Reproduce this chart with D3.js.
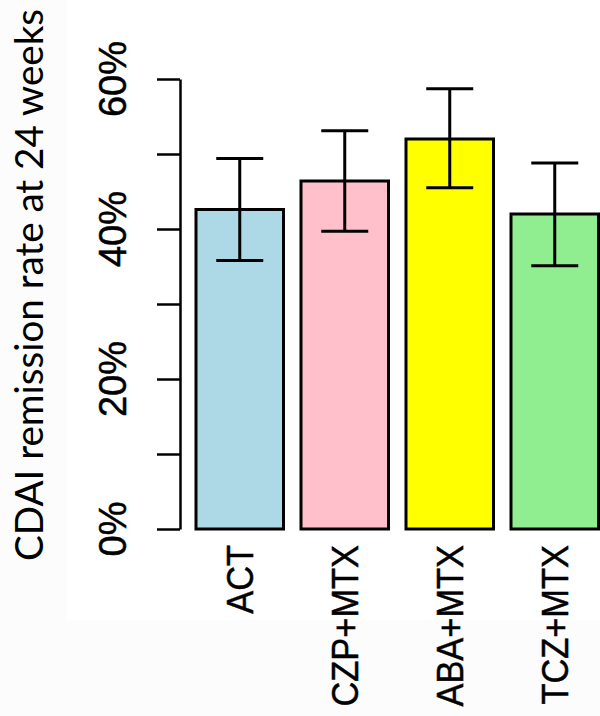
<!DOCTYPE html>
<html>
<head>
<meta charset="utf-8">
<script src="https://cdn.jsdelivr.net/npm/d3@7"></script>
<style>
  html, body { margin: 0; padding: 0; background: #fcfcfc; }
  svg { display: block; }
</style>
</head>
<body>
<script>
// Remission rates (%) by treatment arm with 95% confidence limits
const categories = ["ACT", "CZP+MTX", "ABA+MTX", "TCZ+MTX"];
const rates      = [42.6, 46.4, 52.0, 42.0];
const lowerCI    = [35.8, 39.7, 45.5, 35.1];
const upperCI    = [49.4, 53.1, 58.7, 48.8];
const colors     = ["#ADD8E6", "#FFC0CB", "#FFFF00", "#90EE90"];
const yTicks     = [0, 10, 20, 30, 40, 50, 60];
const yLabels    = [0, 20, 40, 60];
const yTitle     = "CDAI remission rate at 24 weeks";

const W = 600, H = 716;
const svg = d3.select("body").append("svg").attr("width", W).attr("height", H);

// plot panel background
svg.append("rect").attr("x", 67).attr("y", 0).attr("width", W - 67).attr("height", 620)
  .attr("fill", "#ffffff");

const y = d3.scaleLinear().domain([0, 60]).range([529, 79]);
const x = d3.scaleBand().domain(categories).range([196, 598.5])
  .paddingInner(1 / 6).paddingOuter(0);

const data = categories.map((c, i) => ({
  cat: c, v: rates[i], lo: lowerCI[i], hi: upperCI[i], col: colors[i]
}));

// bars
svg.append("g").selectAll("rect").data(data).join("rect")
  .attr("x", d => x(d.cat))
  .attr("y", d => y(d.v))
  .attr("width", x.bandwidth())
  .attr("height", d => y(0) - y(d.v))
  .attr("fill", d => d.col)
  .attr("stroke", "#000")
  .attr("stroke-width", 3);

// error bars
const eb = svg.append("g").attr("stroke", "#000").attr("stroke-width", 3).attr("fill", "none");
const cx = d => x(d.cat) + x.bandwidth() / 2;
const cap = 23.5;
eb.selectAll("path").data(data).join("path")
  .attr("d", d =>
    `M${cx(d)},${y(d.lo)}V${y(d.hi)}` +
    `M${cx(d) - cap},${y(d.hi)}H${cx(d) + cap}` +
    `M${cx(d) - cap},${y(d.lo)}H${cx(d) + cap}`);

// y axis
const axis = d3.axisLeft(y).tickValues(yTicks).tickSize(23).tickSizeOuter(0).tickFormat("");
const ga = svg.append("g").attr("transform", "translate(180,0)").call(axis);
ga.select(".domain").attr("stroke", "#000").attr("stroke-width", 2.5);
ga.selectAll(".tick line").attr("stroke", "#000").attr("stroke-width", 2.5);

// y tick labels
svg.append("g").selectAll("text").data(yLabels).join("text")
  .attr("transform", d => `translate(126,${y(d)}) rotate(-90)`)
  .attr("text-anchor", "middle")
  .attr("font-family", "'Liberation Sans', Arial, sans-serif")
  .attr("font-size", 38)
  .attr("fill", "#000")
  .attr("stroke", "#000")
  .attr("stroke-width", 0.5)
  .text(d => d + "%");

// category labels
svg.append("g").selectAll("text").data(categories).join("text")
  .attr("transform", d => `translate(${x(d) + x.bandwidth() / 2 + 13},545) rotate(-90) scale(0.93,1)`)
  .attr("text-anchor", "end")
  .attr("font-family", "'Liberation Sans', Arial, sans-serif")
  .attr("font-size", 37)
  .attr("fill", "#000")
  .attr("stroke", "#000")
  .attr("stroke-width", 0.5)
  .text(d => d);

// y axis title
const t = svg.append("text")
  .attr("transform", "translate(43,285) rotate(-90)")
  .attr("text-anchor", "middle")
  .attr("font-family", "Lato, 'Open Sans', sans-serif")
  .attr("font-size", 38)
  .attr("fill", "#000")
  .text(yTitle);
const len = t.node().getComputedTextLength();
t.attr("font-size", 38 * 552 / len);
</script>
</body>
</html>
